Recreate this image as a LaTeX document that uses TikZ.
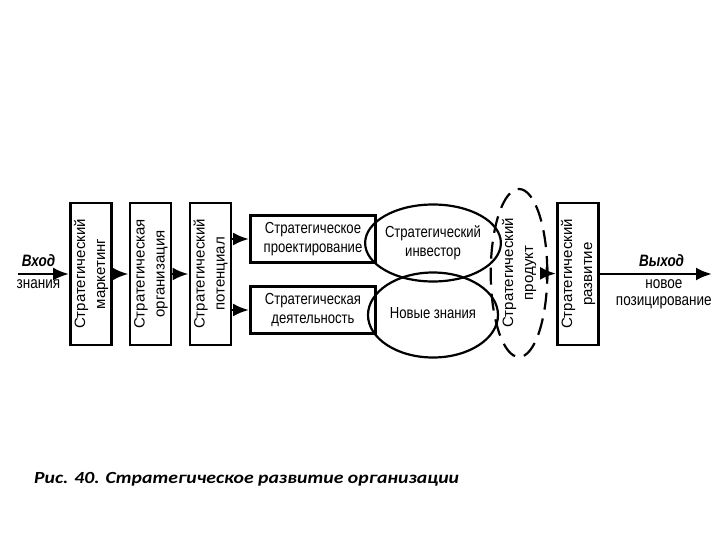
\documentclass[tikz,border=0pt]{standalone}
\usepackage{fontspec}
\setmainfont{Liberation Sans}
\newfontfamily\capfont{Carlito}
\usetikzlibrary{arrows.meta,shapes.geometric}

% upright text in the boxes, and text that is stretched upwards a little
\newcommand{\vtext}[1]{\rotatebox{90}{\fontsize{15}{20}\selectfont\begin{tabular}{@{}c@{}}#1\end{tabular}}}
\newcommand{\htext}[1]{\scalebox{1}[1.22]{\begin{tabular}{@{}c@{}}#1\end{tabular}}}

\begin{document}
\begin{tikzpicture}[x=1pt,y=-1pt,
        box/.style={draw,line width=2.8pt,inner sep=0pt,minimum width=41pt,minimum height=142pt},
        hbox/.style={draw,line width=2.8pt,inner sep=0pt,minimum width=125pt,minimum height=47pt,
            font=\fontsize{13.1}{16}\selectfont},
        oval/.style={draw,ellipse,line width=2.2pt,inner sep=0pt,minimum width=130pt,
            font=\fontsize{13.1}{16}\selectfont},
        arr/.style={-{Latex[length=16pt,width=13pt]},line width=2.8pt},
        lbl/.style={font=\fontsize{13.5}{14}\selectfont,inner sep=1pt}]
    \useasboundingbox (0,0) rectangle (720,540);
    % blocks
    \node[box] (mkt) at (91,274) {\vtext{Стратегический\\маркетинг}};
    \node[box] (org) at (150.5,274) {\vtext{Стратегическая\\организация}};
    \node[box] (pot) at (210.5,274) {\vtext{Стратегический\\потенциал}};
    \node[hbox] (proj) at (313,239) {\htext{Стратегическое\\проектирование}};
    \node[hbox] (act) at (313,310) {\htext{Стратегическая\\деятельность}};
    \node[oval,minimum height=77pt] (inv) at (433,243) {\htext{Стратегический\\инвестор}};
    \node[oval,minimum height=85pt] (know) at (433,315) {\htext{Новые знания}};
    \node[draw,ellipse,dash pattern=on 17pt off 9pt,line width=2.2pt,inner sep=0pt,
        minimum width=50pt,minimum height=168pt] (prod) at (519,273) {\vtext{Стратегический\\продукт}};
    \node[box] (dev) at (578,274) {\vtext{Стратегический\\развитие}};
    % in and out
    \coordinate (in) at (18,274);
    \coordinate (out) at (712,274);
    \draw[arr] (in) -- (mkt)
        node[lbl,pos=0.4,above] {\htext{\bfseries\itshape Вход}}
        node[lbl,pos=0.4,below] {\htext{знания}};
    \draw[arr] (mkt) -- (org);
    \draw[arr] (org) -- (pot);
    \draw[arr] (pot.east |- proj) -- (proj);
    \draw[arr] (pot.east |- act) -- (act);
    \draw[{Bar[width=12pt]}-{Latex[length=16pt,width=13pt]},line width=2.8pt] (prod) -- (dev);
    \draw[arr] (dev) -- (out)
        node[lbl,pos=0.55,above] {\htext{\bfseries\itshape Выход}}
        node[lbl,pos=0.57,below] {\htext{новое\\позицирование}};
    % caption
    \node[anchor=west,inner sep=0pt,font=\capfont\bfseries\itshape\fontsize{17}{20}\selectfont] (cap) at (34,479)
        {\scalebox{1.16}[1]{Рис. 40. Стратегическое развитие организации}};
\end{tikzpicture}
\end{document}
